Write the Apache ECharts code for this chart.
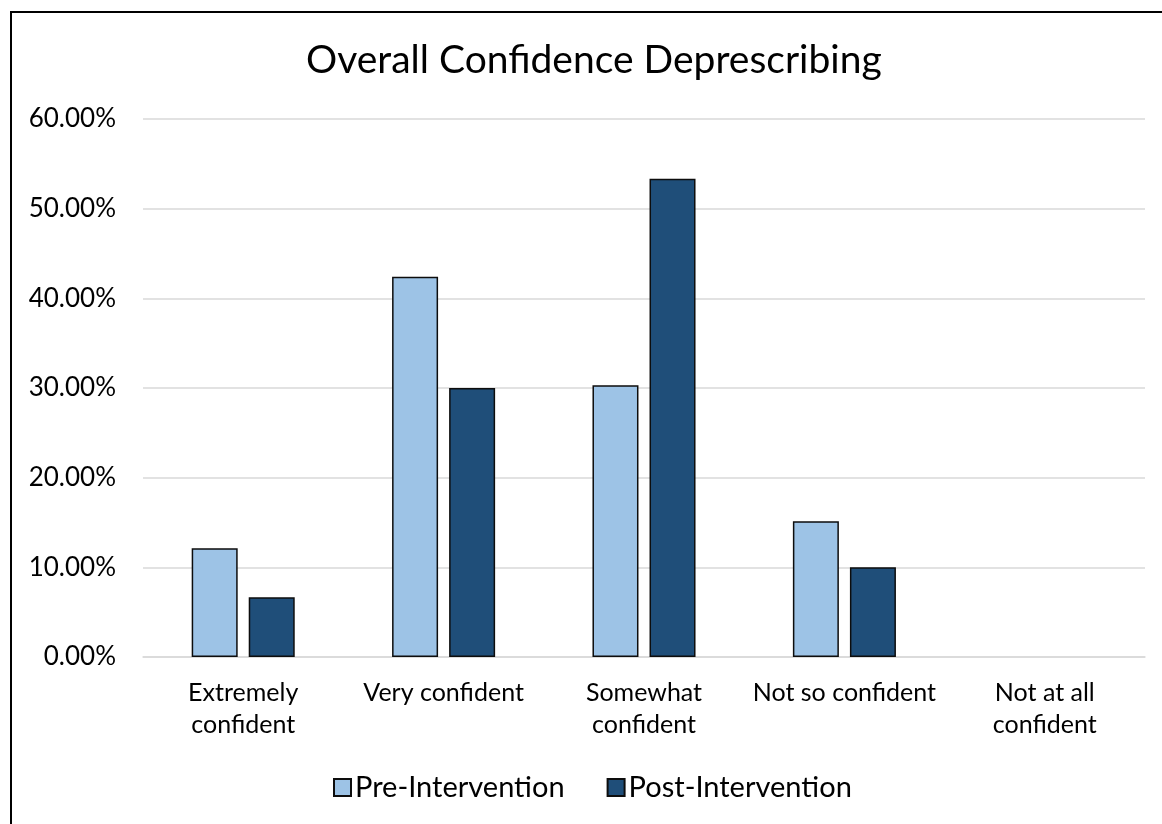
<!DOCTYPE html>
<html>
<head>
<meta charset="utf-8">
<script src="https://cdn.jsdelivr.net/npm/echarts@6/dist/echarts.min.js"></script>
<style>
  html, body { margin: 0; padding: 0; background: #ffffff; }
  #chart { width: 1162px; height: 824px; }
</style>
</head>
<body>
<div id="chart"></div>
<script>
// Share of respondents by confidence level, before and after the intervention
const categories = ['Extremely\nconfident', 'Very confident', 'Somewhat\nconfident', 'Not so confident', 'Not at all\nconfident'];
const preIntervention = [12.12, 42.42, 30.30, 15.15, 0];
const postIntervention = [6.67, 30.00, 53.33, 10.00, 0];
const seriesNames = ['Pre-Intervention', 'Post-Intervention'];

const FONT = 'Lato, "Open Sans", sans-serif';

// zero-height bars get no outline, so empty categories stay blank
const toBarData = values => values.map(v => (v === 0 ? { value: v, itemStyle: { borderWidth: 0 } } : v));

const chart = echarts.init(document.getElementById('chart'), null, { renderer: 'canvas' });

chart.setOption({
  backgroundColor: '#ffffff',
  animation: false,
  textStyle: { fontFamily: FONT },
  graphic: [{
    type: 'rect',
    shape: { x: 11, y: 12, width: 1200, height: 900 },
    style: { fill: 'none', stroke: '#000000', lineWidth: 2 },
    silent: true
  }],
  title: {
    text: 'Overall Confidence Deprescribing',
    left: 306,
    top: 41,
    padding: 0,
    textStyle: { fontFamily: FONT, fontSize: 39, fontWeight: 'normal', color: '#000000' }
  },
  legend: {
    data: seriesNames,
    bottom: 22,
    left: 333,
    padding: 0,
    icon: 'rect',
    itemWidth: 17,
    itemHeight: 17,
    itemGap: 42,
    textStyle: { fontFamily: FONT, fontSize: 29, color: '#000000', padding: [0, 0, 0, -1] }
  },
  grid: { left: 143, right: 17, top: 119, bottom: 167, containLabel: false },
  xAxis: {
    type: 'category',
    data: categories,
    axisLine: { show: true, lineStyle: { color: '#d9d9d9', width: 1.5 } },
    axisTick: { show: false },
    axisLabel: {
      fontFamily: FONT, fontSize: 25, color: '#000000',
      margin: 20, lineHeight: 32, interval: 0
    }
  },
  yAxis: {
    type: 'value',
    min: 0,
    max: 60,
    interval: 10,
    axisLine: { show: false },
    axisTick: { show: false },
    splitLine: { lineStyle: { color: '#d9d9d9', width: 1.5 } },
    axisLabel: {
      fontFamily: FONT, fontSize: 26, color: '#000000', margin: 27,
      formatter: v => v.toFixed(2) + '%'
    }
  },
  series: [
    {
      name: seriesNames[0],
      type: 'bar',
      data: toBarData(preIntervention),
      barWidth: 46,
      barGap: '24%',
      itemStyle: { color: '#9dc3e6', borderColor: '#0d0d0d', borderWidth: 1.5 }
    },
    {
      name: seriesNames[1],
      type: 'bar',
      data: toBarData(postIntervention),
      barWidth: 46,
      barGap: '24%',
      itemStyle: { color: '#1f4e79', borderColor: '#0d0d0d', borderWidth: 1.5 }
    }
  ]
});
</script>
</body>
</html>
